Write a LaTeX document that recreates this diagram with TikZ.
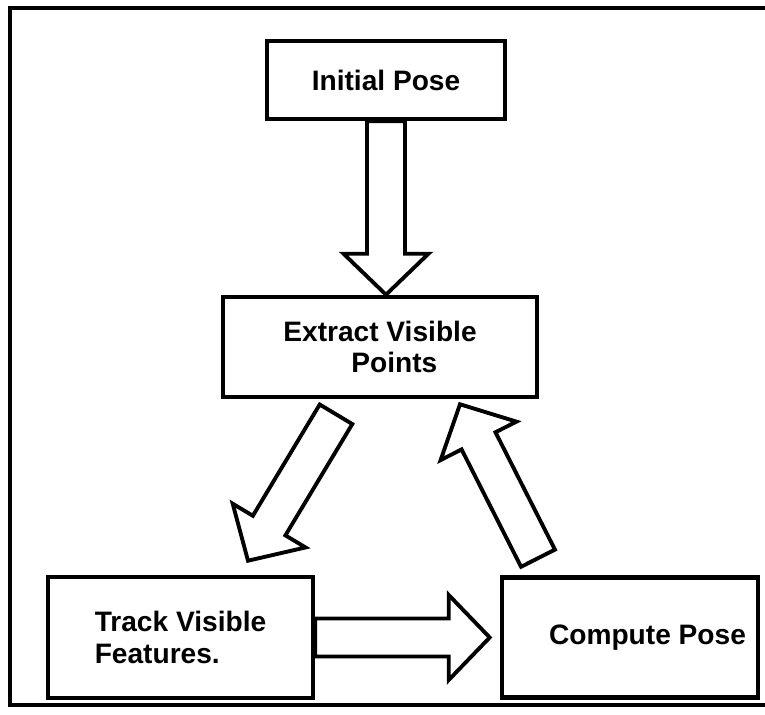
\documentclass[tikz,border=0pt]{standalone}
\usepackage{fontspec}
\setmainfont{Liberation Sans}
\usepackage{tikz}
\usetikzlibrary{calc}
\usetikzlibrary{positioning}

% hollow block arrow from #1 to #2 (tip at #2)
\newcommand{\blockarrow}[2]{%
  \coordinate (HeadBase) at ($(#2)!0.82cm!(#1)$);
  \draw[hollowarrow] ($(#1)!0.38cm!90:(#2)$) -- ($(HeadBase)!0.38cm!90:(#2)$)
    -- ($(HeadBase)!0.85cm!90:(#2)$) -- (#2) -- ($(HeadBase)!0.85cm!-90:(#2)$)
    -- ($(HeadBase)!0.38cm!-90:(#2)$) -- ($(#1)!0.38cm!-90:(#2)$) -- cycle;%
}

\begin{document}
\begin{tikzpicture}[
    box/.style={draw, line width=2.6pt, inner sep=0pt, font=\fontsize{16}{18}\selectfont\bfseries},
    hollowarrow/.style={draw, fill=white, line width=2.2pt}]
    \useasboundingbox (0,0) rectangle (15.3,14.3);
    % Frame (right side runs off the page)
    \draw[line width=2pt] (15.3,14.14) -- (0.2,14.14) -- (0.2,0.2) -- (15.3,0.2);

    % Nodes
    \node[box, minimum width=4.76cm, minimum height=1.56cm] (InitialPose) at (7.72, 12.7) {Initial Pose};
    \node[box, minimum width=6.28cm, minimum height=2cm, align=left] (ExtractPoints) at (7.6, 7.36) {Extract Visible\\\hspace*{1.36cm}Points};
    \node[box, minimum width=5.3cm, minimum height=2.42cm, align=left] (TrackFeatures) at (3.61, 1.55) {Track Visible\\Features.};
    \node[box, minimum width=5.12cm, minimum height=2.4cm] (ComputePose) at (12.6, 1.55) {\hspace*{0.7cm}Compute Pose};

    % Arrow ends
    \coordinate (ExtractIn) at (InitialPose.south |- ExtractPoints.north);
    \coordinate (DownTail) at ($(ExtractPoints.south)+(-0.88,-0.3)$);
    \coordinate (DownTip) at ($(TrackFeatures.north)+(1.35,0.28)$);
    \coordinate (UpTail) at ($(ComputePose.north)+(-1.84,0.34)$);
    \coordinate (UpTip) at ($(ExtractPoints.south)+(1.6,-0.1)$);
    \coordinate (ComputeIn) at ($(ComputePose.west)+(-0.2,0)$);

    % Edges
    \blockarrow{InitialPose.south}{ExtractIn}
    \blockarrow{DownTail}{DownTip}
    \blockarrow{TrackFeatures.east}{ComputeIn}
    \blockarrow{UpTail}{UpTip}
\end{tikzpicture}
\end{document}
